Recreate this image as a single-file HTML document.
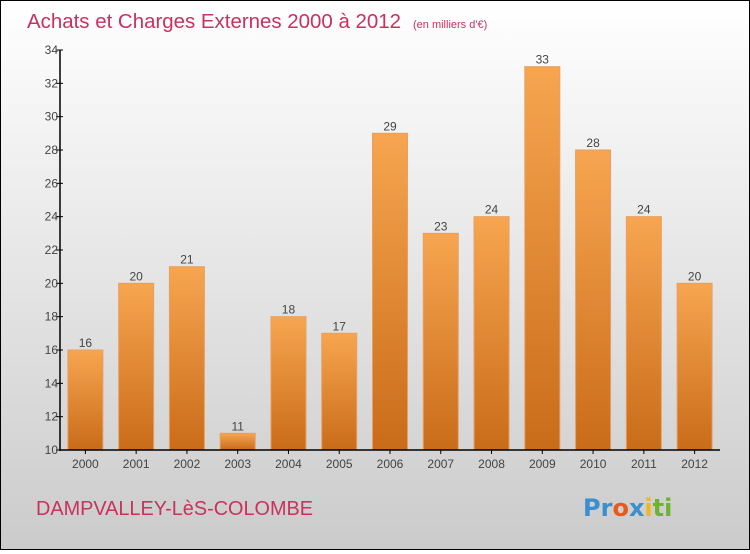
<!DOCTYPE html>
<html><head><meta charset="utf-8"><style>
html,body{margin:0;padding:0}
body{width:750px;height:550px;overflow:hidden}
#c{position:relative;width:748px;height:548px;border:1px solid #000;background:linear-gradient(#ffffff,#cbcbcb);font-family:"Liberation Sans",sans-serif}
</style></head><body>
<div id="c">
<svg id="s" width="748" height="548">
<defs><linearGradient id="g" x1="0" y1="0" x2="0" y2="1"><stop offset="0" stop-color="#f7a550"/><stop offset="1" stop-color="#c96c1a"/></linearGradient></defs>
<text x="26" y="27" font-size="20.5" fill="#c8325f"><tspan textLength="374" lengthAdjust="spacingAndGlyphs">Achats et Charges Externes 2000 à 2012</tspan><tspan font-size="11" dx="12">(en milliers d'€)</tspan></text>
<text x="35" y="514" font-size="20" fill="#c8325f" textLength="277" lengthAdjust="spacingAndGlyphs">DAMPVALLEY-LèS-COLOMBE</text>
<g font-size="24" font-weight="bold" font-family="DejaVu Sans, sans-serif">
<text x="582" y="515"><tspan fill="#3a8fd0">Pr</tspan><tspan fill="#e85a1a">o</tspan><tspan fill="#3a8fd0">x</tspan><tspan fill="#f2b81a">i</tspan><tspan fill="#6cb42a">ti</tspan></text></g>
<g id="plot"></g>
</svg>
</div>
<script>
const categories=["2000","2001","2002","2003","2004","2005","2006","2007","2008","2009","2010","2011","2012"];
const values=[16,20,21,11,18,17,29,23,24,33,28,24,20];
const yTicks=[10,12,14,16,18,20,22,24,26,28,30,32,34];
const ns="http://www.w3.org/2000/svg";
const x0=59,x1=719,yMin=10,yMax=34,py0=449,py1=49;
const step=(x1-x0)/categories.length;
const y=v=>py0-(v-yMin)/(yMax-yMin)*(py0-py1);
const xc=i=>x0+step*(i+0.5);
const p=document.getElementById('plot');
function mk(t,a){const e=document.createElementNS(ns,t);for(const k in a)e.setAttribute(k,a[k]);p.appendChild(e);return e;}
values.forEach((v,i)=>{
 const r=mk('rect',{x:xc(i)-17.5,y:y(v),width:35,height:py0-y(v),fill:'url(#g)',stroke:'#e8a060','stroke-width':1});
 
 
 const t=mk('text',{x:xc(i),y:y(v)-3,'text-anchor':'middle','font-size':12,fill:'#444'});t.textContent=v;
 
 
 const c=mk('text',{x:xc(i),y:467,'text-anchor':'middle','font-size':12,fill:'#444'});c.textContent=categories[i];
 
 
 mk('line',{x1:xc(i),x2:xc(i),y1:py0,y2:py0+4,stroke:'#000'});
});
yTicks.forEach(v=>{
 mk('line',{x1:x0-4,x2:x0+3,y1:y(v),y2:y(v),stroke:'#000'});
 const t=mk('text',{x:x0-2,y:y(v)+4,'text-anchor':'end','font-size':12,fill:'#444'});t.textContent=v;
 
 
});
const ya=mk('line',{x1:x0,x2:x0,y1:py1,y2:py0+1,stroke:'#000','stroke-width':1.5});


const xa=mk('line',{x1:x0,x2:x1,y1:py0,y2:py0,stroke:'#000','stroke-width':1.5});


</script>
</body></html>
